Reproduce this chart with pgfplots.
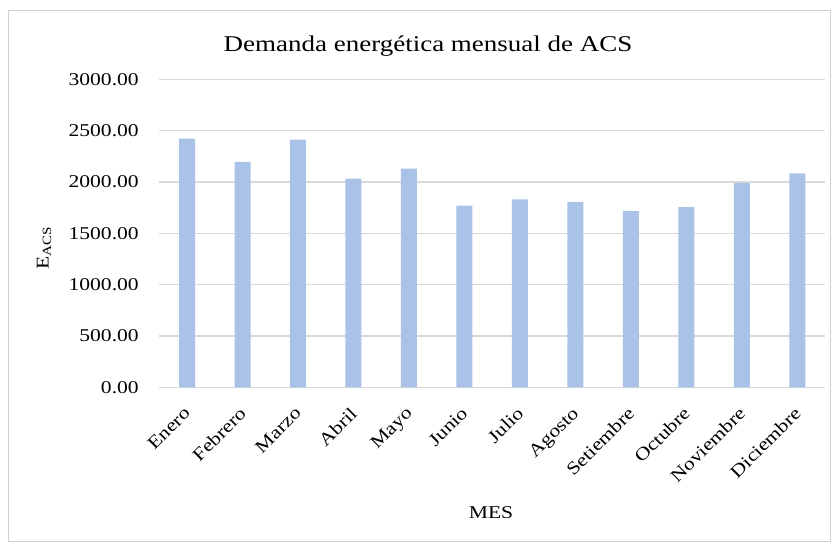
\documentclass[border=0pt]{standalone}
\usepackage{pgfplots}
\pgfplotsset{compat=1.18}
\usepackage{fontspec}
\setmainfont{Liberation Serif}[FakeStretch=1.2]
\definecolor{barblue}{RGB}{170,193,232}
\definecolor{gridgray}{RGB}{217,217,217}
\definecolor{framegray}{RGB}{210,210,210}

\begin{document}
\begin{tikzpicture}[x=1pt,y=1pt]
\path[use as bounding box] (0,0) rectangle (832,544);
\draw[framegray, line width=1pt] (8,3) rectangle (830,533);
\begin{axis}[
  at={(159.3pt,156.7pt)}, anchor=south west,
  scale only axis, width=665.7pt, height=308pt,
  ymin=0, ymax=3000, ytick={0,500,...,3000},
  xmin=-0.5, xmax=11.5, xtick={0,...,11},
  xticklabels={Enero,Febrero,Marzo,Abril,Mayo,Junio,Julio,Agosto,Setiembre,Octubre,Noviembre,Diciembre},
  axis line style={draw=none}, tick style={draw=none},
  ymajorgrids, grid style={gridgray, line width=1.2pt},
  /pgf/number format/.cd, fixed, fixed zerofill, precision=2, 1000 sep={}, assume math mode=true,
  /pgfplots/.cd,
  yticklabel style={font=\fontsize{18}{20}\selectfont, xshift=-17pt},
  xticklabel style={font=\fontsize{18}{20}\selectfont, rotate=45, anchor=north east, inner sep=2pt, xshift=-14pt, yshift=-8pt},
  clip=false,
]
\addplot[ybar, bar width=16pt, fill=barblue, draw=none] coordinates {
  (0,2423) (1,2196) (2,2413) (3,2033) (4,2131) (5,1770)
  (6,1830) (7,1805) (8,1715) (9,1754) (10,1992) (11,2084)
};
\end{axis}
\node[font=\fontsize{22.5}{26}\selectfont] at (428,498) {Demanda energética mensual de ACS};
\node[font=\fontsize{18}{20}\selectfont] at (491,31) {MES};
\node[font=\fontsize{18}{20}\selectfont, rotate=90] at (44,296) {E\textsubscript{ACS}};
\end{tikzpicture}
\end{document}
